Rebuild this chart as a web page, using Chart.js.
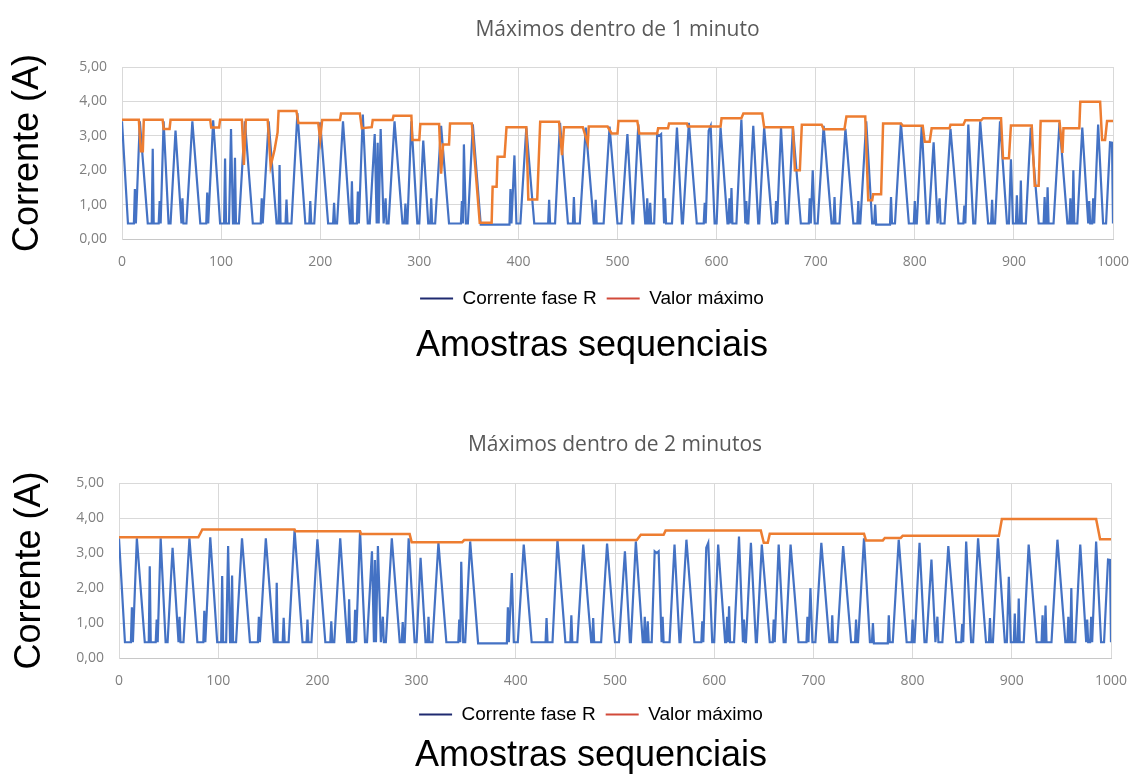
<!DOCTYPE html>
<html><head><meta charset="utf-8">
<script src="https://cdn.jsdelivr.net/npm/chart.js@4.4.1/dist/chart.umd.min.js"></script>
<style>
html,body{margin:0;padding:0;background:#fff;width:1135px;height:774px;overflow:hidden}
canvas{position:absolute;left:0}
#c1{top:0}
#c2{top:400px}
</style></head><body>
<canvas id="c1" width="1135" height="390"></canvas>
<canvas id="c2" width="1135" height="374"></canvas>
<script>
// ---- data ----
const chartTitles = ['Máximos dentro de 1 minuto', 'Máximos dentro de 2 minutos'];
const seriesNames = ['Corrente fase R', 'Valor máximo'];
const xAxisTitle = 'Amostras sequenciais';
const yAxisTitle = 'Corrente (A)';
const xTickValues = [0, 100, 200, 300, 400, 500, 600, 700, 800, 900, 1000];
const yTickValues = [0, 1, 2, 3, 4, 5];

// Corrente fase R (same in both charts): vertices
const currentX = [0,6,12,13,14,18,26,30,31,32,37,38,39,42,47,49,54,60,61,62,65,71,79,85,86,87,92,99,103,104,105,108,110,112,113,114,115,118,124,132,140,141,142,148,156,158,159,160,165,166,167,171,177,185,189,190,191,194,200,208,213,214,215,217,223,230,231,232,233,237,238,239,243,248,250,255,257,258,259,261,264,266,267,269,275,283,285,286,287,288,292,298,300,304,309,311,312,313,316,322,330,342,343,344,345,347,349,354,362,391,392,393,396,398,402,408,416,430,431,432,437,442,450,455,456,457,462,468,476,477,478,479,486,492,500,504,510,515,516,521,528,529,530,531,532,533,534,537,540,542,544,547,548,549,555,560,565,566,572,580,587,588,589,592,594,598,600,604,611,612,613,614,615,616,620,625,629,630,631,632,637,642,643,648,656,659,660,661,665,670,672,677,685,693,694,695,697,699,702,708,716,718,719,720,724,730,738,742,743,744,745,751,757,759,760,761,775,776,777,780,786,794,799,800,801,802,807,812,814,819,823,825,826,830,836,844,849,850,851,854,859,861,866,874,877,878,879,881,886,893,895,897,899,902,903,904,906,907,908,912,917,925,930,931,932,933,934,935,940,946,954,956,957,958,959,960,961,964,969,975,976,977,979,980,981,985,990,993,997,999,1000];
const currentY = [3.42,0.45,0.45,1.45,0.45,3.42,0.45,0.45,2.62,0.45,0.45,1.1,0.45,3.42,0.45,0.45,3.15,0.45,1.18,0.45,0.45,3.42,0.45,0.45,1.35,0.45,3.45,0.45,0.45,2.34,0.45,0.45,3.2,0.45,0.45,2.36,0.45,0.45,3.42,0.45,0.45,1.18,0.45,3.42,0.45,0.45,2.15,0.45,0.45,1.15,0.45,0.45,3.66,0.45,0.45,1.1,0.45,0.45,3.39,0.45,0.45,1.05,0.45,0.45,3.42,0.45,0.45,1.68,0.45,0.45,1.38,0.45,3.62,0.45,0.45,3.05,0.45,2.8,0.45,3.2,0.45,1.18,0.45,0.45,3.42,0.45,0.45,1.03,0.45,0.45,3.42,0.45,0.45,2.86,0.45,0.45,1.18,0.45,0.45,3.29,0.45,0.45,1.1,0.45,2.75,0.45,0.45,3.33,0.42,0.42,1.45,0.45,2.43,0.45,0.45,3.24,0.45,0.45,1.14,0.45,0.45,3.38,0.45,0.45,1.22,0.45,0.45,3.24,0.45,0.45,1.14,0.45,0.45,3.27,0.45,0.45,3.05,0.45,0.45,3.33,0.45,0.45,1.18,0.45,0.45,1.05,0.45,0.45,3.05,3.0,3.05,0.45,1.18,0.45,0.45,3.24,0.45,0.45,3.38,0.45,0.45,1.05,0.45,3.15,3.29,0.45,0.45,3.24,0.45,0.45,1.18,0.45,1.48,0.45,0.45,3.47,0.45,1.1,0.45,0.45,3.29,0.45,0.45,3.24,0.45,0.45,1.1,0.45,3.24,0.45,0.45,3.24,0.45,0.45,1.18,0.45,2.0,0.45,0.45,3.29,0.45,0.45,1.22,0.45,0.45,3.2,0.45,0.45,1.1,0.45,0.45,3.42,0.45,0.45,1.0,0.42,0.42,1.22,0.45,0.45,3.38,0.45,0.45,1.1,0.45,0.45,3.29,0.45,0.45,2.81,0.45,1.18,0.45,0.45,3.2,0.45,0.45,0.97,0.45,3.33,0.45,0.45,3.42,0.45,0.45,1.14,0.45,0.45,3.42,0.45,0.45,2.32,0.45,0.45,1.27,0.45,0.45,1.7,0.45,0.45,3.24,0.45,0.45,1.22,0.45,0.45,1.5,0.45,0.45,3.38,0.45,0.45,1.18,0.45,0.45,2.0,0.45,0.45,3.24,0.45,1.1,0.45,0.45,1.18,0.45,3.33,0.45,0.45,2.81,2.8,0.45];

// Valor máximo, 1-minute window
const max1X = [0,17,19,21,22,41,42,48,49,89,90,98,99,121,123,125,147,150,154,157,158,176,178,198,200,202,220,221,240,242,252,253,273,274,292,293,300,301,320,322,324,330,331,353,361,373,374,378,379,386,388,408,410,419,422,441,444,446,465,470,471,490,494,500,501,520,522,540,541,551,552,570,571,604,605,625,627,646,648,677,679,684,686,706,708,729,731,750,753,757,758,766,768,786,788,808,810,815,817,835,836,849,851,867,869,887,889,895,897,918,921,925,927,946,949,950,966,967,987,989,992,994,1000];
const max1Y = [3.47,3.47,2.55,2.55,3.47,3.47,3.2,3.2,3.47,3.47,3.24,3.24,3.47,3.47,2.15,3.47,3.47,2.12,2.6,3.1,3.72,3.72,3.37,3.37,2.9,3.46,3.46,3.65,3.65,3.22,3.25,3.46,3.46,3.58,3.58,2.88,2.88,3.34,3.34,1.9,2.75,2.75,3.36,3.36,0.47,0.47,1.52,1.52,2.39,2.39,3.25,3.25,1.15,1.15,3.41,3.41,2.44,3.25,3.25,2.78,3.27,3.27,3.07,3.07,3.43,3.43,3.07,3.07,3.22,3.22,3.36,3.36,3.27,3.27,3.51,3.51,3.65,3.65,3.25,3.25,2.0,2.0,3.32,3.32,3.19,3.19,3.56,3.56,1.13,1.13,1.3,1.3,3.36,3.36,3.29,3.29,2.83,2.83,3.22,3.22,3.32,3.32,3.45,3.45,3.51,3.51,2.35,2.35,3.3,3.3,1.55,1.55,3.43,3.43,2.5,3.22,3.22,3.99,3.99,2.88,2.88,3.43,3.43];

// Valor máximo, 2-minute window
const max2X = [0,80,84,177,178,243,244,293,295,346,348,522,526,549,551,647,650,654,656,751,753,770,772,788,790,887,890,985,989,1000];
const max2Y = [3.45,3.45,3.67,3.67,3.62,3.62,3.54,3.54,3.31,3.31,3.37,3.37,3.52,3.52,3.64,3.64,3.29,3.29,3.55,3.55,3.36,3.36,3.43,3.43,3.49,3.49,3.97,3.97,3.39,3.39];

// ---- helpers ----
function toPoints(xs, ys) { return xs.map((x, i) => ({ x: x, y: ys[i] })); }
const gridColor = '#d9d9d9';
const tickColor = '#7f7f7f';
const legendColors = ['#1f2a70', '#d24a3a'];

function makeChart(id, titleText, maxX, maxY, g) {
  return new Chart(document.getElementById(id), {
    type: 'line',
    data: {
      datasets: [
        { label: seriesNames[0], data: toPoints(currentX, currentY), borderColor: '#4472c4',
          borderWidth: 2.2, pointRadius: 0, tension: 0, order: 1 },
        { label: seriesNames[1], data: toPoints(maxX, maxY), borderColor: '#ed7d31',
          borderWidth: 2.5, pointRadius: 0, tension: 0, order: 0 }
      ]
    },
    options: {
      responsive: false, animation: false, devicePixelRatio: 1,
      layout: { padding: { left: 71, right: g.right, top: 0, bottom: 0 } },
      plugins: {
        tooltip: { enabled: false },
        title: { display: true, text: titleText, color: '#595959', fullSize: false,
          font: { family: '"Open Sans", sans-serif', size: 21, weight: 'normal', lineHeight: 1.2 },
          padding: { top: g.tTop, bottom: g.tBot } },
        subtitle: { display: true, text: xAxisTitle, position: 'bottom', color: '#000',
          font: { family: '"Liberation Sans", Arial, sans-serif', size: 36, weight: 'normal', lineHeight: 1 },
          padding: { top: g.sTop, bottom: g.sBot } },
        legend: {
          position: 'bottom',
          labels: {
            color: '#000', usePointStyle: true, pointStyle: 'line', pointStyleWidth: 33, boxHeight: 2,
            padding: 10,
            font: { family: '"Liberation Sans", Arial, sans-serif', size: 19 },
            sort: (a, b) => a.datasetIndex - b.datasetIndex,
            generateLabels: (chart) => chart.data.datasets.map((ds, i) => ({
              text: ds.label, datasetIndex: i, strokeStyle: legendColors[i], fillStyle: legendColors[i],
              lineWidth: 2, pointStyle: 'line', hidden: false, fontColor: '#000'
            }))
          }
        }
      },
      scales: {
        x: {
          type: 'linear', min: 0, max: 1000,
          afterBuildTicks: (s) => { s.ticks = xTickValues.map(v => ({ value: v })); },
          afterFit: (s) => { s.height = g.xH; s.paddingLeft = 0; s.paddingRight = 0; },
          ticks: { color: tickColor, padding: 15, maxRotation: 0,
            font: { family: '"Open Sans", sans-serif', size: 14 },
            callback: (v) => String(v) },
          grid: { color: gridColor, lineWidth: 1, drawTicks: false },
          border: { color: '#c8c8c8' }
        },
        y: {
          min: 0, max: 5,
          afterBuildTicks: (s) => { s.ticks = yTickValues.map(v => ({ value: v })); },
          afterFit: (s) => { s.width = g.yW; },
          ticks: { color: tickColor, padding: 15,
            font: { family: '"Open Sans", sans-serif', size: 14 },
            callback: (v) => Number(v).toFixed(2).replace('.', ',') },
          grid: { color: gridColor, lineWidth: 1, drawTicks: false },
          border: { color: gridColor },
          title: { display: true, text: yAxisTitle, color: '#000',
            font: { family: '"Liberation Sans", Arial, sans-serif', size: 36, lineHeight: 1 },
            padding: { top: g.yTitlePad, bottom: 0 } }
        }
      }
    }
  });
}

makeChart('c1', chartTitles[0], max1X, max1Y,
  { right: 22, tTop: 17.4, tBot: 24.4, sTop: 10, sBot: 26, xH: 40, yW: 51, yTitlePad: -61 });
makeChart('c2', chartTitles[1], max2X, max2Y,
  { right: 24, tTop: 32.4, tBot: 25.4, sTop: 4, sBot: 0, xH: 37, yW: 48, yTitlePad: -59 });
</script>
</body></html>
